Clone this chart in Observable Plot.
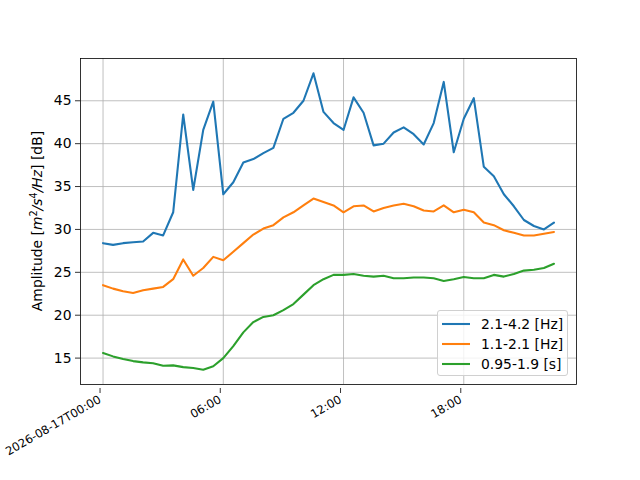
<!DOCTYPE html>
<html>
<head>
<meta charset="utf-8">
<script src="https://cdn.jsdelivr.net/npm/d3@7"></script>
<script src="https://cdn.jsdelivr.net/npm/@observablehq/plot@0.6"></script>
<style>
  html, body { margin: 0; padding: 0; background: white; }
  #wrap { position: relative; width: 640px; height: 480px; font-family: "DejaVu Sans", sans-serif; }
  #legend { position: absolute; left: 437px; top: 310px; width: 131px; height: 66px; box-sizing: border-box;
    border: 1px solid #d0d0d0; border-radius: 3px; background: rgba(255,255,255,0.8); font-size: 13.9px; }
  .row { position: absolute; left: 4px; height: 20px; display: flex; align-items: center; }
  .row svg { display: block; }
  .row span { margin-left: 11px; white-space: nowrap; }
</style>
</head>
<body>
<div id="wrap"></div>
<script>
const seriesNames = ["2.1-4.2 [Hz]", "1.1-2.1 [Hz]", "0.95-1.9 [s]"];
const seriesColors = ["#1f77b4", "#ff7f0e", "#2ca02c"];
const startISO = "2026-08-17T00:00:00Z";
const stepMinutes = 30;
const blue = [28.4,28.2,28.4,28.5,28.6,29.6,29.3,32.0,43.4,34.6,41.6,44.9,34.1,35.5,37.8,38.2,38.9,39.5,42.9,43.6,45.0,48.2,43.7,42.4,41.6,45.4,43.6,39.8,40.0,41.3,41.9,41.1,39.9,42.4,47.2,39.0,42.9,45.3,37.3,36.2,34.1,32.7,31.1,30.4,30.0,30.8];
const orange = [23.5,23.1,22.8,22.6,22.9,23.1,23.3,24.2,26.5,24.6,25.5,26.8,26.4,27.4,28.4,29.4,30.1,30.5,31.4,32.0,32.8,33.6,33.2,32.8,32.0,32.7,32.8,32.1,32.5,32.8,33.0,32.7,32.2,32.1,32.8,32.0,32.3,32.0,30.8,30.5,29.9,29.6,29.3,29.3,29.5,29.7];
const green = [15.6,15.2,14.9,14.65,14.5,14.4,14.1,14.15,13.95,13.85,13.65,14.05,15.0,16.4,18.0,19.2,19.8,20.0,20.6,21.3,22.4,23.5,24.2,24.7,24.7,24.8,24.6,24.5,24.6,24.3,24.3,24.4,24.4,24.3,24.0,24.2,24.45,24.3,24.3,24.7,24.5,24.8,25.2,25.3,25.5,26.0];
const xTickHours = [0, 6, 12, 18];
const yTicks = [15, 20, 25, 30, 35, 40, 45];

const start = new Date(startISO).getTime();
const H = 3600e3;
const values = [blue, orange, green];
const data = values.flatMap((arr, s) => arr.map((v, i) => ({
  time: new Date(start + i * stepMinutes * 60000), value: v, series: seriesNames[s]
})));
const n = blue.length;
const spanH = (n - 1) * stepMinutes / 60;
const allV = values.flat();
const vmin = d3.min(allV), vmax = d3.max(allV);
const pad = (vmax - vmin) * 0.05;
const xTicks = xTickHours.map(h => new Date(start + h * H));
const fmt = (d, i) => i === 0 ? d3.utcFormat("%Y-%m-%dT%H:%M")(d) : d3.utcFormat("%H:%M")(d);

const chart = Plot.plot({
  width: 640, height: 480,
  marginLeft: 80, marginRight: 64, marginTop: 58, marginBottom: 96,
  style: { fontFamily: "DejaVu Sans, sans-serif", fontSize: "13.9px", background: "white", color: "black", overflow: "visible" },
  x: { type: "utc", domain: [new Date(start - spanH * 0.05 * H), new Date(start + spanH * 1.05 * H)] },
  y: { domain: [vmin - pad, vmax + pad] },
  color: { domain: seriesNames, range: seriesColors },
  marks: [
    Plot.gridX(xTicks, { stroke: "#b0b0b0", strokeOpacity: 1, strokeWidth: 0.8 }),
    Plot.gridY(yTicks, { stroke: "#b0b0b0", strokeOpacity: 1, strokeWidth: 0.8 }),
    Plot.line(data, { x: "time", y: "value", z: "series", stroke: "series", strokeWidth: 2.08 }),
    Plot.axisX(xTicks, { tickFormat: fmt, tickRotate: -30, tickSize: 5, tickPadding: 5, fontSize: 11.6, label: null, strokeWidth: 0.8, dx: -3, dy: 4 }),
    Plot.axisY(yTicks, { tickSize: 5, tickPadding: 4, fontSize: 13.9, label: null, strokeWidth: 0.8 }),
    Plot.frame({ stroke: "black", strokeWidth: 0.8 })
  ]
});
document.getElementById("wrap").appendChild(chart);

// y-axis label with math-style parts
const svg = d3.select(chart);
const lab = svg.append("text")
  .attr("transform", "translate(42,221) rotate(-90)")
  .attr("text-anchor", "middle")
  .attr("fill", "black")
  .style("font-family", "DejaVu Sans, sans-serif")
  .style("font-size", "13.9px");
lab.append("tspan").text("Amplitude [");
lab.append("tspan").style("font-style", "italic").text("m");
lab.append("tspan").style("font-size", "9.7px").attr("dy", -5).text("2");
lab.append("tspan").style("font-style", "italic").attr("dy", 5).text("/s");
lab.append("tspan").style("font-size", "9.7px").attr("dy", -5).text("4");
lab.append("tspan").style("font-style", "italic").attr("dy", 5).text("/Hz");
lab.append("tspan").text("] [dB]");

// legend
const legend = document.createElement("div");
legend.id = "legend";
seriesNames.forEach((name, i) => {
  const row = document.createElement("div");
  row.className = "row";
  row.style.top = (3 + i * 20) + "px";
  row.innerHTML = `<svg width="28" height="20"><line x1="0" x2="28" y1="10" y2="10" stroke="${seriesColors[i]}" stroke-width="2.08"/></svg><span>${name}</span>`;
  legend.appendChild(row);
});
document.getElementById("wrap").appendChild(legend);
</script>
</body>
</html>
